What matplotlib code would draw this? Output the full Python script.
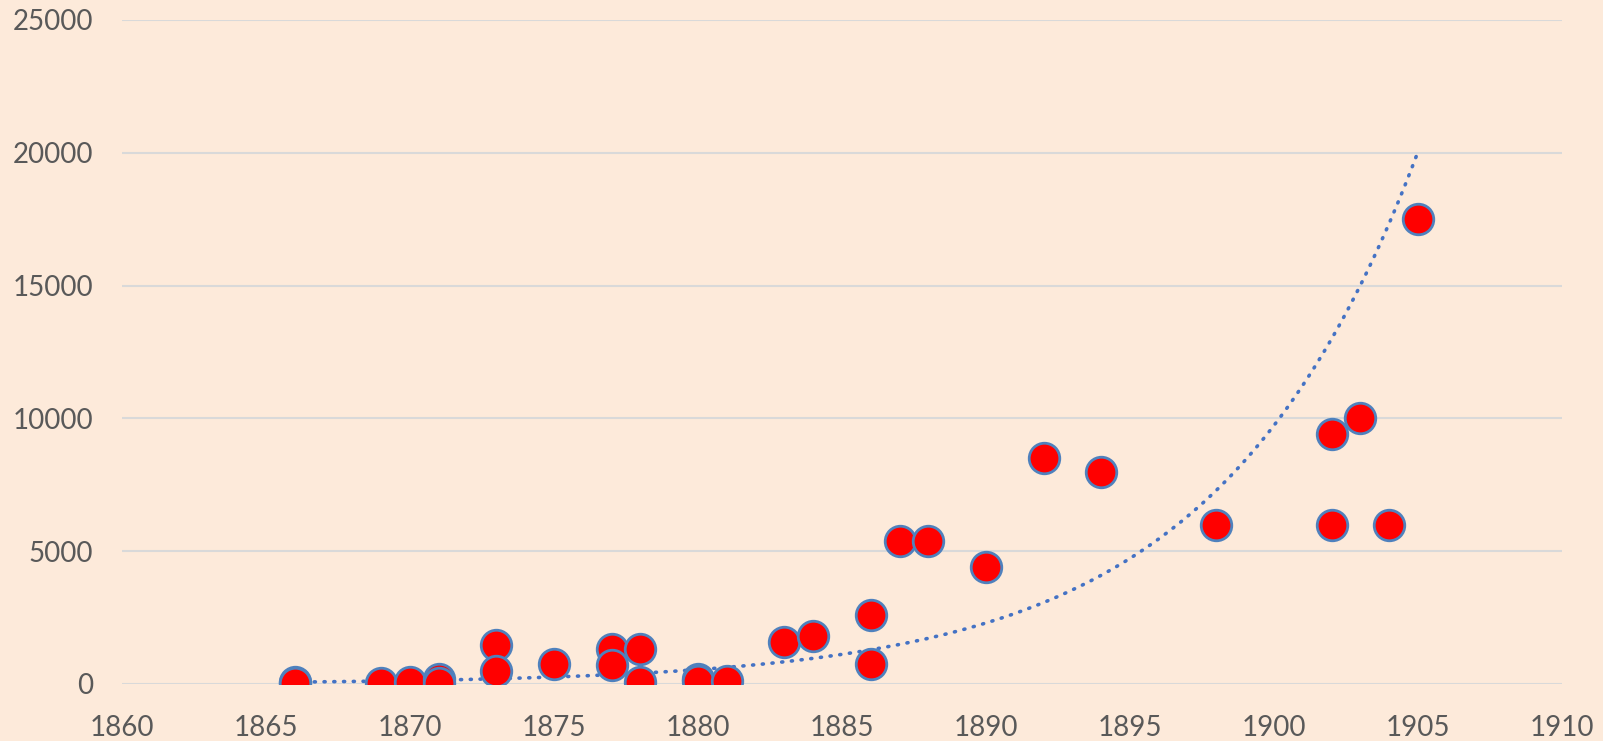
import numpy as np
import matplotlib
matplotlib.use("Agg")
import matplotlib.pyplot as plt

# points
years = [1866, 1866, 1869, 1870, 1871, 1871, 1873, 1873, 1875, 1877, 1877,
         1878, 1878, 1880, 1880, 1881, 1883, 1884, 1886, 1886, 1887, 1888,
         1890, 1892, 1894, 1898, 1902, 1902, 1903, 1904, 1905]
values = [90, 20, 40, 75, 200, 20, 1450, 500, 750, 1300, 700,
          1300, 75, 180, 110, 110, 1600, 1800, 2600, 750, 5400, 5400,
          4400, 8500, 8000, 6000, 9400, 6000, 10000, 6000, 17500]

xticks = [1860, 1865, 1870, 1875, 1880, 1885, 1890, 1895, 1900, 1905, 1910]
yticks = [0, 5000, 10000, 15000, 20000, 25000]

bg = "#FDEADA"
txt = "#595959"

plt.rcParams['font.family'] = ['Lato', 'DejaVu Sans']

fig = plt.figure(figsize=(16.03, 7.41), dpi=100, facecolor=bg)
ax = fig.add_axes([122 / 1603, 57 / 741, 1440 / 1603, 664 / 741])
ax.set_facecolor(bg)

# exponential trend line (least squares on log values, like the spreadsheet does)
b, a = np.polyfit(years, np.log(values), 1)
tx = np.linspace(min(years), max(years), 200)
ax.plot(tx, np.exp(a + b * tx), color="#4472C4", lw=2.6, ls=(0, (0.3, 2.4)),
        dash_capstyle="round", zorder=3)

ax.plot(years, values, ls="none", marker="o", ms=22, mfc="#FF0000",
        mec="#4F81BD", mew=2, zorder=4)

ax.set_xlim(1860, 1910)
ax.set_ylim(0, 25000)
ax.set_xticks(xticks)
ax.set_yticks(yticks)
ax.grid(axis="y", color="#D9D9D9", lw=1.5)
ax.set_axisbelow(True)
for s in ax.spines.values():
    s.set_visible(False)
ax.tick_params(axis="both", length=0, labelsize=20, labelcolor=txt)
ax.tick_params(axis="x", pad=22)
ax.tick_params(axis="y", pad=21)

fig.savefig("out.png", dpi=100, facecolor=bg)
